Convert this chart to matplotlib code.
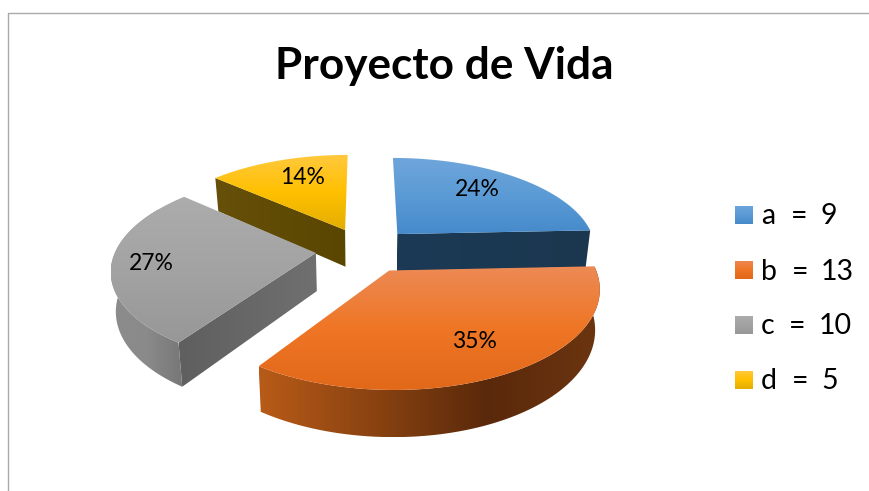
import numpy as np
import matplotlib
matplotlib.use("Agg")
import matplotlib.pyplot as plt
from matplotlib.colors import LinearSegmentedColormap
from matplotlib.patches import Polygon

plt.rcParams['font.family'] = ['Lato', 'DejaVu Sans']

title = "Proyecto de Vida"
names = ['a', 'b', 'c', 'd']
values = [9, 13, 10, 5]

# top face: light -> mid -> dark, top to bottom
top_colors = [
    ['#6FA6DB', '#5B9BD5', '#468ACB'],
    ['#EC8A55', '#EF7625', '#E2681A'],
    ['#ACACAC', '#A3A3A3', '#979797'],
    ['#FFC93F', '#FFC000', '#E3AE00'],
]
# radial wall, left to right
wall_colors = [
    ['#1C3A55', '#1B3750'],
    ['#5C2B0C', '#5C2B0C'],
    ['#5F5F5F', '#707070'],
    ['#66500A', '#5A4600'],
]
# curved outer wall, left to right
outer_colors = {
    1: ['#B85B18', '#8A4311', '#5A290B', '#6C3510'],
    2: ['#8C8C8C', '#8A8A8A', '#777777'],
}
pct_xy = [(477, 190), (474, 341.5), (151, 264), (303, 178)]

# projection of the pie, in pixels
cx, cy = 364.5, 250
rx, ry = 200, 93
persp = 0.16
depth = 38
shrink = 0.02
explode = 0.244


def project(X, Y, z=0):
    s = 1 / (1 + persp * Y)
    return np.column_stack([cx + rx * X * s * (1 - shrink * z), cy - ry * Y * s + depth * s * z])


def grad_fill(ax, pts, colors, vertical=True):
    cmap = LinearSegmentedColormap.from_list('g', colors)
    ramp = np.linspace(0, 1, 256)
    ramp = ramp[:, None] if vertical else ramp[None, :]
    x0, y0 = pts.min(axis=0)
    x1, y1 = pts.max(axis=0)
    im = ax.imshow(ramp, cmap=cmap, extent=(x0, x1, y1, y0), aspect='auto', interpolation='bilinear', vmin=0, vmax=1)
    im.set_clip_path(Polygon(pts, closed=True, transform=ax.transData))


fig = plt.figure(figsize=(8.69, 4.91), dpi=100)
ax = fig.add_axes([0, 0, 1, 1])

shares = np.array(values) / sum(values)
edges = np.concatenate([[0], np.cumsum(shares)]) * 2 * np.pi

# back to front
for i in [3, 0, 2, 1]:
    t0, t1 = edges[i], edges[i + 1]
    mid = (t0 + t1) / 2
    ox, oy = explode * np.sin(mid), explode * np.cos(mid)
    t = np.linspace(t0, t1, 120)
    X = ox + np.sin(t)
    Y = oy + np.cos(t)

    # radial wall that faces the viewer
    if i != 1:
        te = t1 if i == 0 else t0
        ex = np.array([ox, ox + np.sin(te)])
        ey = np.array([oy, oy + np.cos(te)])
        wall = np.vstack([project(ex, ey, 0), project(ex[::-1], ey[::-1], 1)])
        grad_fill(ax, wall, wall_colors[i], vertical=False)

    # curved wall, the part past the silhouette ends up under the top face
    if i in outer_colors:
        keep = t <= 5 * np.pi / 3
        upper = project(X[keep], Y[keep], 0)
        lower = project(X[keep], Y[keep], 1)
        grad_fill(ax, np.vstack([upper, lower[::-1]]), outer_colors[i], vertical=False)

    top = np.vstack([project(np.array([ox]), np.array([oy]), 0), project(X, Y, 0)])
    grad_fill(ax, top, top_colors[i])

for i in range(len(values)):
    ax.text(pct_xy[i][0], pct_xy[i][1], f"{shares[i] * 100:.0f}%", fontsize=16.5, ha='center', va='center', color='black')

ax.text(444, 65.5, title, fontsize=31.8, fontweight='bold', ha='center', va='center', color='black')

# legend
legend_y = [215, 270, 324.5, 379.5]
eq_x = [791, 792, 789, 792]
val_x = [820, 821, 819, 821]
for i in range(len(names)):
    y = legend_y[i]
    grad_fill(ax, np.array([[735, y - 9], [753, y - 9], [753, y + 9.5], [735, y + 9.5]]), top_colors[i])
    ax.text(761, y - 1, names[i], fontsize=20.5, ha='left', va='center_baseline', color='black')
    ax.text(eq_x[i], y - 1, '=', fontsize=20.5, ha='left', va='center_baseline', color='black')
    ax.text(val_x[i], y - 1, str(values[i]), fontsize=20.5, ha='left', va='center_baseline', color='black')

# chart frame
ax.plot([7.5, 7.5, 869], [491, 12.5, 12.5], color='#A9A9A9', lw=1.0)

ax.set_xlim(0, 869)
ax.set_ylim(491, 0)
ax.axis('off')
fig.savefig('out.png', dpi=100, facecolor='white')
